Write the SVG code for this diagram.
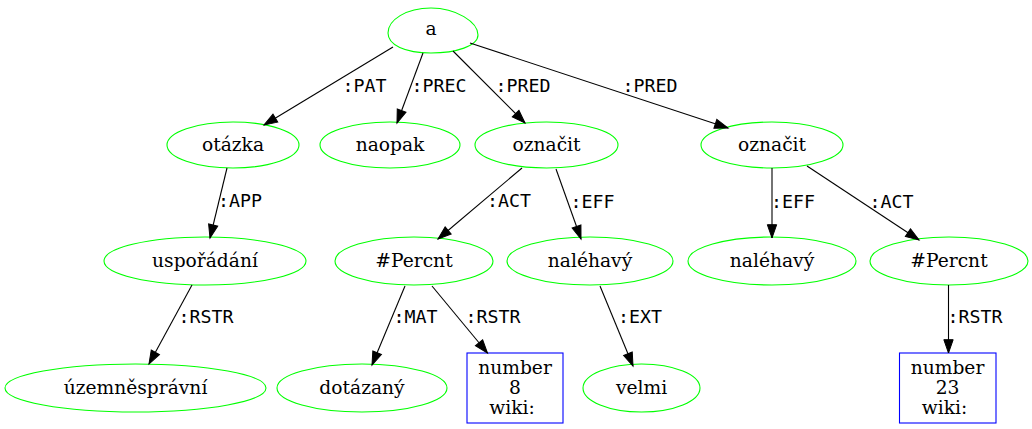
<svg xmlns="http://www.w3.org/2000/svg" width="1032" height="429" viewBox="0 0 1032 429">
<style>
.n ellipse, .n path { fill: none; stroke: #00ff00; stroke-width: 1.1; }
.b rect { fill: none; stroke: #0000ff; stroke-width: 1.1; }
.n text, .b text { font-family: "DejaVu Serif", serif; font-size: 18.67px; text-anchor: middle; fill: #000; }
.e line { stroke: #000; stroke-width: 1.1; marker-end: url(#arr); }
.e text { font-family: "DejaVu Sans Mono", monospace; font-size: 18.3px; fill: #000; }
</style>
<defs>
<marker id="arr" markerWidth="15" markerHeight="11" refX="13.3" refY="4.67" orient="auto" markerUnits="userSpaceOnUse" overflow="visible">
<path d="M0,0 L13.3,4.67 L0,9.33 Z" fill="#000" stroke="#000" stroke-width="1"/>
</marker>
</defs>
<rect width="1032" height="429" fill="#fff"/>

<g id="n_a" class="n">
<path d="M431,8 C456,8 478,22 478,35 C478,46 456,53 431,53 C405,53 388,45 388,33 C388,20 406,8 431,8 Z"/>
<text x="431" y="35">a</text>
</g>
<g id="n_otazka" class="n"><ellipse cx="233" cy="145" rx="66" ry="23"/><text x="233" y="151">otázka</text></g>
<g id="n_naopak" class="n"><ellipse cx="390" cy="145" rx="70" ry="23"/><text x="390" y="151">naopak</text></g>
<g id="n_oznacit1" class="n"><ellipse cx="546.5" cy="145" rx="71.5" ry="23"/><text x="546.5" y="151">označit</text></g>
<g id="n_oznacit2" class="n"><ellipse cx="772" cy="145" rx="71" ry="23"/><text x="772" y="151">označit</text></g>
<g id="n_usporadani" class="n"><ellipse cx="205" cy="261" rx="101" ry="24"/><text x="205" y="267">uspořádání</text></g>
<g id="n_percnt1" class="n"><ellipse cx="414" cy="261" rx="79" ry="24"/><text x="414" y="267">#Percnt</text></g>
<g id="n_nalehavy1" class="n"><ellipse cx="590" cy="261" rx="83" ry="24"/><text x="590" y="267">naléhavý</text></g>
<g id="n_nalehavy2" class="n"><ellipse cx="772" cy="261" rx="84" ry="24"/><text x="772" y="267">naléhavý</text></g>
<g id="n_percnt2" class="n"><ellipse cx="949" cy="261" rx="79" ry="24"/><text x="949" y="267">#Percnt</text></g>
<g id="n_uzemnespravni" class="n"><ellipse cx="135.5" cy="388" rx="130.5" ry="24"/><text x="135.5" y="394">územněsprávní</text></g>
<g id="n_dotazany" class="n"><ellipse cx="362" cy="388" rx="85" ry="24"/><text x="362" y="394">dotázaný</text></g>
<g id="n_number8" class="b"><rect x="467" y="353" width="96" height="70"/>
<text x="515" y="374">number</text><text x="515" y="394">8</text><text x="512" y="414">wiki:</text></g>
<g id="n_velmi" class="n"><ellipse cx="641.5" cy="388" rx="58.5" ry="24"/><text x="641.5" y="394">velmi</text></g>
<g id="n_number23" class="b"><rect x="899.5" y="353" width="96.5" height="70"/>
<text x="947.5" y="374">number</text><text x="947.5" y="394">23</text><text x="944.5" y="414">wiki:</text></g>

<g id="edges" class="e">
<line x1="393" y1="47" x2="264" y2="125"/><text x="342.5" y="92">:PAT</text>
<line x1="423" y1="53" x2="397" y2="123"/><text x="411.5" y="92">:PREC</text>
<line x1="453" y1="51" x2="525" y2="123"/><text x="495.5" y="92">:PRED</text>
<line x1="470" y1="43" x2="728" y2="128"/><text x="622.5" y="92">:PRED</text>
<line x1="227" y1="168" x2="210" y2="238"/><text x="218" y="207">:APP</text>
<line x1="192" y1="285" x2="149" y2="364"/><text x="178.5" y="323">:RSTR</text>
<line x1="522" y1="168" x2="438" y2="239"/><text x="487" y="207">:ACT</text>
<line x1="556" y1="169" x2="581" y2="239"/><text x="570.5" y="208">:EFF</text>
<line x1="405" y1="286" x2="372" y2="365"/><text x="393.5" y="323">:MAT</text>
<line x1="432" y1="286" x2="487.5" y2="353"/><text x="465.5" y="323">:RSTR</text>
<line x1="600" y1="286" x2="633" y2="366"/><text x="618" y="323">:EXT</text>
<line x1="772" y1="168" x2="772" y2="238"/><text x="771" y="208">:EFF</text>
<line x1="807" y1="166" x2="919" y2="240"/><text x="869.5" y="208">:ACT</text>
<line x1="948.5" y1="285" x2="948.5" y2="353"/><text x="947.5" y="323">:RSTR</text>
</g>
</svg>
